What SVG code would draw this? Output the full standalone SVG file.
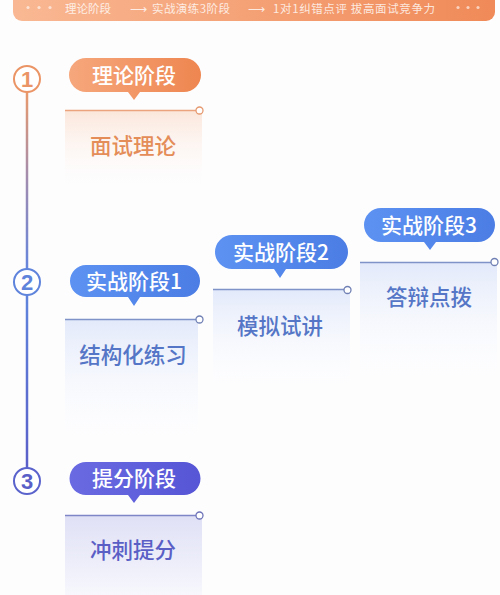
<svg xmlns="http://www.w3.org/2000/svg" width="500" height="595" viewBox="0 0 500 595">
<defs>
<linearGradient id="gBanner" x1="0" y1="0" x2="1" y2="0"><stop offset="0" stop-color="#f9b893"/><stop offset="1" stop-color="#f08a58"/></linearGradient>
<linearGradient id="gOr" x1="0" y1="0" x2="1" y2="0"><stop offset="0" stop-color="#f6a77c"/><stop offset="1" stop-color="#ee8650"/></linearGradient>
<linearGradient id="gBl" x1="0" y1="0" x2="1" y2="0"><stop offset="0" stop-color="#5d92f2"/><stop offset="1" stop-color="#4b7de4"/></linearGradient>
<linearGradient id="gPu" x1="0" y1="0" x2="1" y2="0"><stop offset="0" stop-color="#6a6be2"/><stop offset="1" stop-color="#5656d6"/></linearGradient>
<linearGradient id="cOr" x1="0" y1="0" x2="0" y2="1"><stop offset="0" stop-color="#fbe6da"/><stop offset="1" stop-color="#ffffff" stop-opacity="0"/></linearGradient>
<linearGradient id="cBl" x1="0" y1="0" x2="0" y2="1"><stop offset="0" stop-color="#e2e9fa"/><stop offset="1" stop-color="#ffffff" stop-opacity="0"/></linearGradient>
<linearGradient id="cPu" x1="0" y1="0" x2="0" y2="1"><stop offset="0" stop-color="#dfe0f5"/><stop offset="1" stop-color="#f7f7fd"/></linearGradient>
<linearGradient id="l1" gradientUnits="userSpaceOnUse" x1="0" y1="92" x2="0" y2="269"><stop offset="0" stop-color="#e99a6c"/><stop offset="0.5" stop-color="#a08cb0"/><stop offset="1" stop-color="#6585dc"/></linearGradient>
<linearGradient id="l2" gradientUnits="userSpaceOnUse" x1="0" y1="295" x2="0" y2="468"><stop offset="0" stop-color="#5f84dc"/><stop offset="1" stop-color="#5a5fc8"/></linearGradient>
</defs>
<style>
.cjk{font-family:"Noto Sans CJK SC","Noto Sans",sans-serif;}
.pill{fill:#fff;font-size:21px;font-weight:500;text-anchor:middle;}
.card{font-size:21.5px;font-weight:500;text-anchor:middle;}
.num{font-family:"Liberation Sans","Noto Sans",sans-serif;font-size:22px;font-weight:bold;text-anchor:middle;}
.ban{fill:#fff;fill-opacity:0.8;font-size:11.5px;}
.dot{fill:#fff;fill-opacity:0.6;}
.knob{fill:#fff;stroke-width:1.3;}
</style>
<rect width="500" height="595" fill="#fdfdfe"/>
<g id="banner">
<rect x="13" y="-10" width="482" height="31" rx="9" fill="url(#gBanner)"/>
<circle class="dot" cx="28" cy="7.5" r="1.6"/><circle class="dot" cx="39" cy="7.5" r="1.6"/><circle class="dot" cx="50" cy="7.5" r="1.6"/>
<text class="cjk ban" x="65" y="13">理论阶段</text>
<text class="cjk ban" x="130" y="13">⟶</text>
<text class="cjk ban" x="152" y="13" textLength="78">实战演练3阶段</text>
<text class="cjk ban" x="248" y="13">⟶</text>
<text class="cjk ban" x="273" y="13" textLength="162">1对1纠错点评 拔高面试竞争力</text>
<circle class="dot" cx="458" cy="7.5" r="1.6"/><circle class="dot" cx="468" cy="7.5" r="1.6"/><circle class="dot" cx="478" cy="7.5" r="1.6"/>
</g>
<g id="connectors">
<line x1="27" y1="92" x2="27" y2="269" stroke="url(#l1)" stroke-width="2.5"/>
<line x1="27" y1="295" x2="27" y2="468" stroke="url(#l2)" stroke-width="2.5"/>
</g>
<g id="step1">
<circle cx="27" cy="79" r="13" fill="#fff" stroke="#eb9566" stroke-width="2"/>
<text class="num" x="27" y="87" fill="#eb9566">1</text>
</g>
<g id="step2">
<circle cx="27" cy="282" r="13" fill="#fff" stroke="#5f84dc" stroke-width="2"/>
<text class="num" x="27" y="290" fill="#5f84dc">2</text>
</g>
<g id="step3">
<circle cx="27" cy="481" r="13" fill="#fff" stroke="#5a63cc" stroke-width="2"/>
<text class="num" x="27" y="489" fill="#5a5fc8">3</text>
</g>
<g id="stage-theory">
<path d="M86 58 H184 A17 17 0 0 1 184 92 H140 L134 100 L128 92 H86 A17 17 0 0 1 86 58 Z" fill="url(#gOr)"/>
<text class="cjk pill" x="134" y="83">理论阶段</text>
</g>
<g id="card-theory">
<rect x="65" y="110" width="137" height="85" fill="url(#cOr)"/>
<line x1="65" y1="110.5" x2="196" y2="110.5" stroke="#eaa37c" stroke-width="1.3"/>
<circle class="knob" cx="199.5" cy="110.5" r="3.5" stroke="#e69970"/>
<text class="cjk card" x="133" y="154" fill="#e48d58">面试理论</text>
</g>
<g id="stage-p1">
<path d="M86 265 H184 A16 16 0 0 1 184 297 H140 L134 306 L128 297 H86 A16 16 0 0 1 86 265 Z" fill="url(#gBl)"/>
<text class="cjk pill" x="134" y="289">实战阶段1</text>
</g>
<g id="card-p1">
<rect x="65" y="319" width="133" height="130" fill="url(#cBl)"/>
<line x1="65" y1="319.5" x2="196" y2="319.5" stroke="#7f93c8" stroke-width="1.3"/>
<circle class="knob" cx="199.5" cy="319.5" r="3.5" stroke="#7080b4"/>
<text class="cjk card" x="133" y="363" fill="#5576c6">结构化练习</text>
</g>
<g id="stage-p2">
<path d="M232 235 H331 A17 17 0 0 1 331 269 H286 L280 278 L274 269 H232 A17 17 0 0 1 232 235 Z" fill="url(#gBl)"/>
<text class="cjk pill" x="281" y="260">实战阶段2</text>
</g>
<g id="card-p2">
<rect x="213" y="289" width="137" height="108" fill="url(#cBl)"/>
<line x1="213" y1="289.5" x2="344" y2="289.5" stroke="#7f93c8" stroke-width="1.3"/>
<circle class="knob" cx="347.5" cy="290" r="3.5" stroke="#7080b4"/>
<text class="cjk card" x="280" y="334" fill="#5576c6">模拟试讲</text>
</g>
<g id="stage-p3">
<path d="M381 208 H478 A17 17 0 0 1 478 242 H436 L430 250 L424 242 H381 A17 17 0 0 1 381 208 Z" fill="url(#gBl)"/>
<text class="cjk pill" x="429" y="233">实战阶段3</text>
</g>
<g id="card-p3">
<rect x="360" y="262" width="137" height="125" fill="url(#cBl)"/>
<line x1="360" y1="262.5" x2="491" y2="262.5" stroke="#7f93c8" stroke-width="1.3"/>
<circle class="knob" cx="494.5" cy="262" r="3.5" stroke="#7080b4"/>
<text class="cjk card" x="429" y="305" fill="#5576c6">答辩点拨</text>
</g>
<g id="stage-boost">
<path d="M86 462 H184 A16.5 16.5 0 0 1 184 495 H140 L134 503 L128 495 H86 A16.5 16.5 0 0 1 86 462 Z" fill="url(#gPu)"/>
<text class="cjk pill" x="134" y="486">提分阶段</text>
</g>
<g id="card-boost">
<rect x="65" y="515" width="137" height="80" fill="url(#cPu)"/>
<line x1="65" y1="515.5" x2="196" y2="515.5" stroke="#7f86c8" stroke-width="1.3"/>
<circle class="knob" cx="199.5" cy="515.5" r="3.5" stroke="#6e74b8"/>
<text class="cjk card" x="133" y="558" fill="#5a5fc6">冲刺提分</text>
</g>
</svg>
